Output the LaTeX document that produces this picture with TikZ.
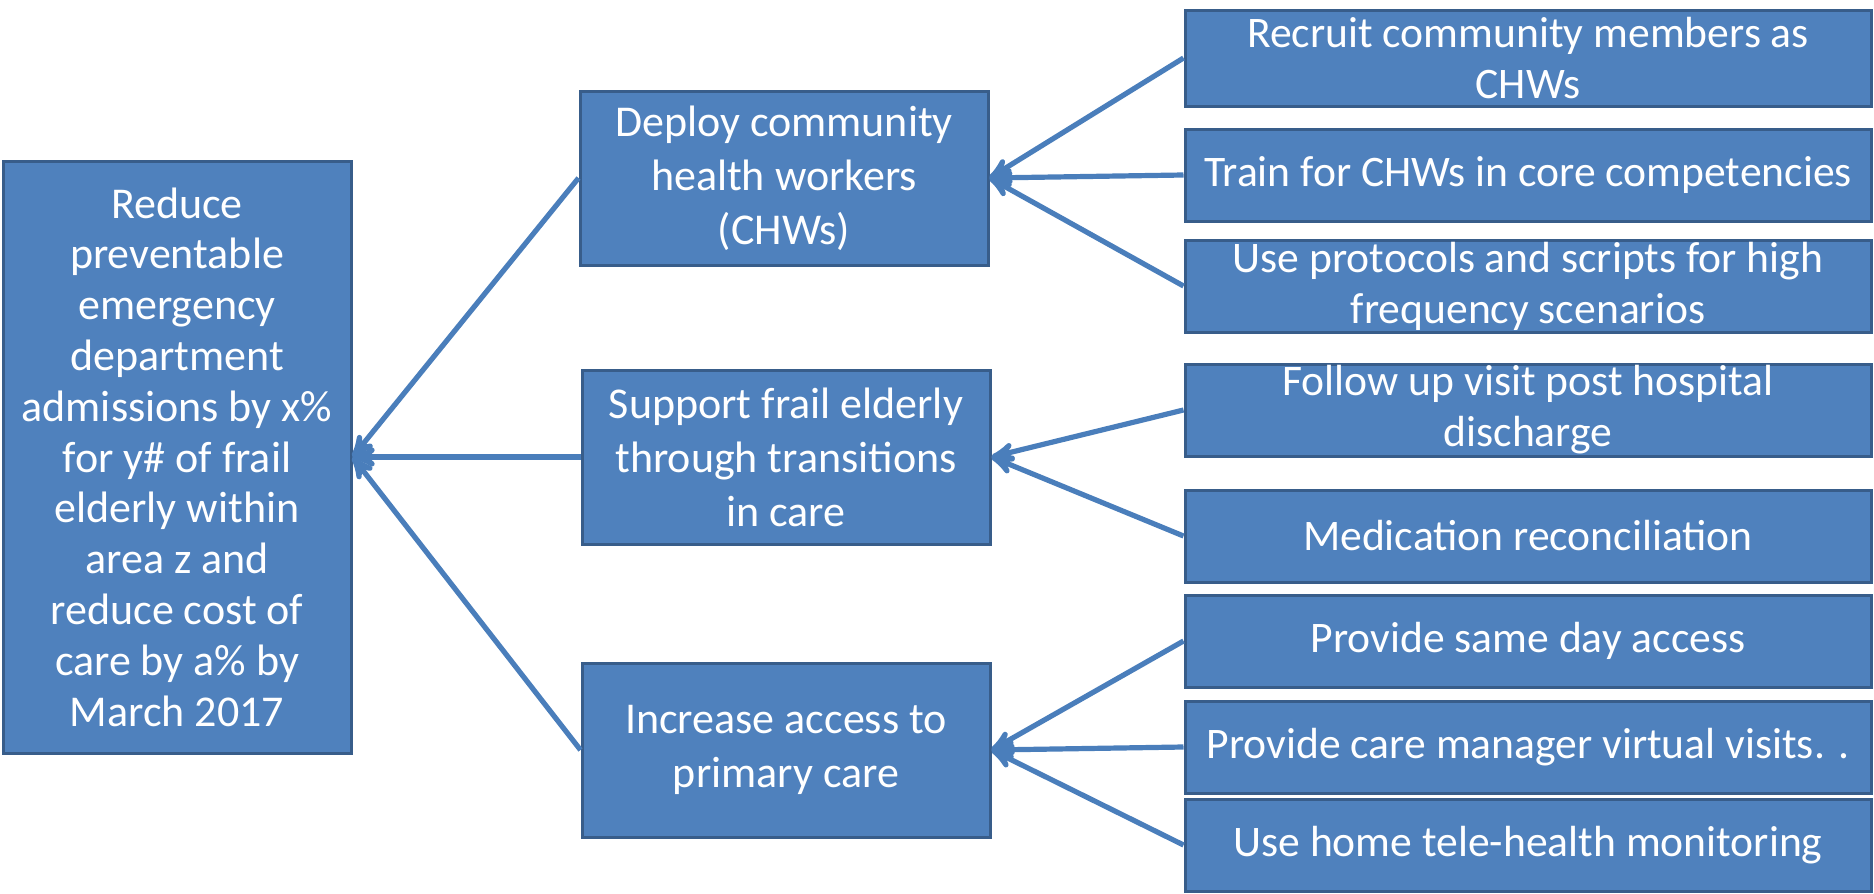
\documentclass[tikz,border=0pt]{standalone}
\usepackage{fontspec}
\setmainfont{Carlito}
\usepackage{tikz}
\usetikzlibrary{arrows,positioning}
\definecolor{boxblue}{HTML}{4F81BD}
\definecolor{rimblue}{HTML}{385D8A}
\definecolor{lineblue}{HTML}{4A7EBB}
\tikzset{
    %Define standard arrow tip
    >=stealth',
    %Define style for boxes
    box/.style={
           rectangle,
           draw=rimblue, line width=1.5pt,
           fill=boxblue,
           text=white,
           inner sep=0pt,
           align=center,
           font=\fontsize{22}{27}\selectfont},
    outcome/.style={
           box,
           minimum width=174pt,
           minimum height=296pt,
           font=\fontsize{22}{25.4}\selectfont},
    driver/.style={
           box,
           minimum width=204pt,
           minimum height=87pt},
    idea/.style={
           box,
           minimum width=343pt,
           minimum height=46pt,
           font=\fontsize{21.8}{25.5}\selectfont},
    % Define arrow style
    link/.style={
           draw=lineblue,
           line width=2.6pt}
}
\begin{document}
\begin{tikzpicture}[x=0.5pt,y=-0.5pt,->,every edge/.style={link}]
\useasboundingbox (0,0) rectangle (1874,894);
\node[outcome](goal) at (177,457){Reduce\\preventable\\emergency\\department\\admissions by x\%\\for y\# of frail\\elderly within\\area z and\\reduce cost of\\care by a\% by\\March 2017};
\node[driver](deploy) at (784,178){Deploy community\\health workers\\(CHWs)};
\node[driver](support) at (786,457){Support frail elderly\\through transitions\\in care};
\node[driver](access) at (786,750){Increase access to\\primary care};
\node[idea, minimum height=48pt](recruit) at (1528,58){Recruit community members as\\CHWs};
\node[idea](train) at (1528,175){Train for CHWs in core competencies};
\node[idea](scripts) at (1528,286){Use protocols and scripts for high\\frequency scenarios};
\node[idea](followup) at (1528,410){Follow up visit post hospital\\discharge};
\node[idea](meds) at (1528,536){Medication reconciliation};
\node[idea](sameday) at (1528,641){Provide same day access};
\node[idea](virtual) at (1528,747){Provide care manager virtual visits. .};
\node[idea](telehealth) at (1528,845){Use home tele-health monitoring};
\path[]
	(deploy.west) edge (goal.east)
	(support.west) edge (goal.east)
	(access.west) edge (goal.east)
	(recruit.west) edge (deploy.east)
	(train.west) edge (deploy.east)
	(scripts.west) edge (deploy.east)
	(followup.west) edge (support.east)
	(meds.west) edge (support.east)
	(sameday.west) edge (access.east)
	(virtual.west) edge (access.east)
	(telehealth.west) edge (access.east);
\end{tikzpicture}
\end{document}
